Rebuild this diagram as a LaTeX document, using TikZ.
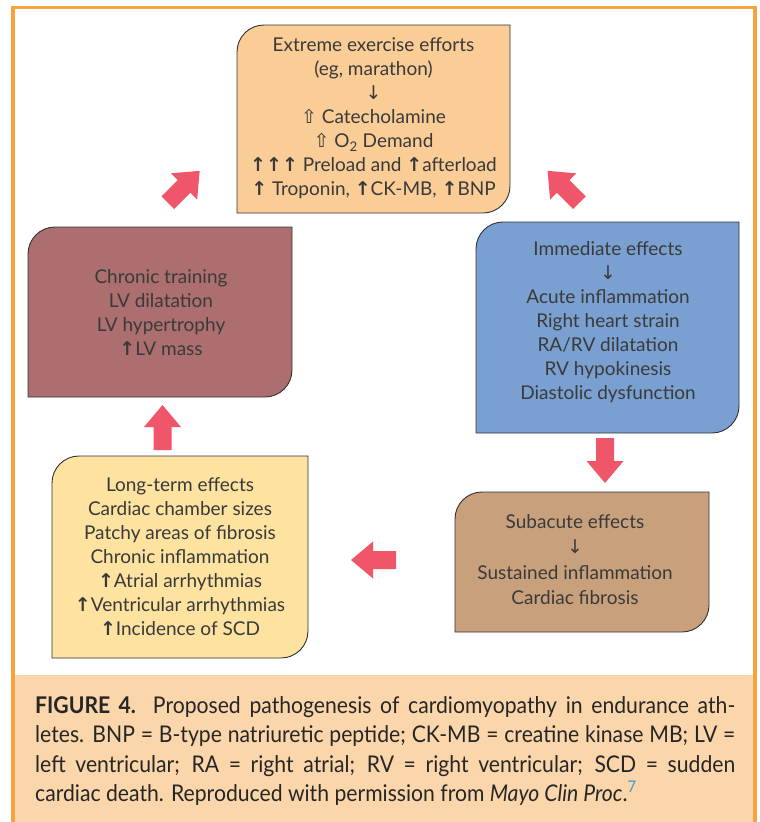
\documentclass[tikz,border=0pt]{standalone}
\usepackage{fontspec}
\setmainfont{Lato}
\newfontfamily\symf{DejaVu Sans}
\newfontfamily\capfont[FakeStretch=0.92]{Lato}
\definecolor{cTop}{HTML}{FACC96}
\definecolor{cBlue}{HTML}{7AA0D2}
\definecolor{cMaroon}{HTML}{AC6E6E}
\definecolor{cYellow}{HTML}{FDE2A0}
\definecolor{cBrown}{HTML}{C8A07C}
\definecolor{cCap}{HTML}{FBD6AA}
\definecolor{cFrame}{HTML}{F7A23A}
\definecolor{cRed}{HTML}{F0566A}
\definecolor{cText}{HTML}{3A3A3A}
\definecolor{cRef}{HTML}{3E9AD6}
\newcommand\upar{{\symf\bfseries\char"2191}}
\newcommand\dnar{{\symf\char"2193}}
\newcommand\hup{{\symf\char"21E7}}
\newcommand\blockarrow[3]{\fill[cRed, shift={(#1,#2)}, rotate=#3] (-22.5,-9) -- (0.5,-9) -- (0.5,-18.5) -- (22.5,0) -- (0.5,18.5) -- (0.5,9) -- (-22.5,9) -- cycle;}
\newcommand\cornerbox[3]{%
  \draw[boxline, fill=#2] (#1.south west) -- ([yshift=-#3pt]#1.north west) arc(180:270:#3) -- (#1.north east) -- ([yshift=#3pt]#1.south east) arc(0:90:#3) -- cycle;}
\tikzset{
  boxshape/.style={inner sep=0pt, outer sep=0pt, draw=none},
  boxline/.style={draw=black!80, line width=0.9pt},
  txt/.style={align=center, text=cText, inner sep=0pt, font=\fontsize{19}{24}\selectfont},
  capline/.style={anchor=base west, inner sep=0pt, text=black!85, font=\capfont\fontsize{23}{29.5}\selectfont}
}
\begin{document}
\begin{tikzpicture}[x=1pt,y=-1pt]
\useasboundingbox (0,0) rectangle (760,822);
\clip (0,0) rectangle (760,822);
\fill[white] (0,0) rectangle (760,822);
% caption background
\fill[cCap] (13,675) rectangle (755,830);
% frame
\draw[cFrame, line width=3.3pt] (13,830) -- (13,7.5) -- (755,7.5) -- (755,830);

% boxes
\node[boxshape, minimum width=273pt, minimum height=188pt] (top) at (373.5,119) {};
\cornerbox{top}{cTop}{27}
\node[boxshape, minimum width=263pt, minimum height=211pt] (imm) at (607.5,327.5) {};
\cornerbox{imm}{cBlue}{27}
\node[boxshape, minimum width=264pt, minimum height=170pt] (chr) at (160,312) {};
\cornerbox{chr}{cMaroon}{27}
\node[boxshape, minimum width=256pt, minimum height=202pt] (lng) at (180,557) {};
\cornerbox{lng}{cYellow}{27}
\node[boxshape, minimum width=254pt, minimum height=140pt] (sub) at (582,562) {};
\cornerbox{sub}{cBrown}{27}

% texts
\node[txt] (toptxt) at (373.5,118) {Extreme exercise efforts\\(eg, marathon)\\\dnar\\\hup\ Catecholamine\\\hup\ O\textsubscript{2} Demand\\\upar\upar\upar\ Preload and \upar afterload\\\upar\ Troponin, \upar CK-MB, \upar BNP};
\node[txt] (immtxt) at (608,322.5) {Immediate effects\\\dnar\\Acute inflammation\\Right heart strain\\RA/RV dilatation\\RV hypokinesis\\Diastolic dysfunction};
\node[txt] (chrtxt) at (161,312.5) {Chronic training\\LV dilatation\\LV hypertrophy\\\upar LV mass};
\node[txt] (lngtxt) at (180,557) {Long-term effects\\Cardiac chamber sizes\\Patchy areas of fibrosis\\Chronic inflammation\\\upar Atrial arrhythmias\\\upar Ventricular arrhythmias\\\upar Incidence of SCD};
\node[txt, font=\fontsize{19}{25.5}\selectfont] (subtxt) at (575,559.5) {Subacute effects\\\dnar\\Sustained inflammation\\Cardiac fibrosis};

% block arrows
\blockarrow{183.75}{186.75}{45}
\blockarrow{563.5}{186.75}{135}
\blockarrow{605}{460.5}{270}
\blockarrow{373.5}{560}{180}
\blockarrow{162.5}{427.5}{90}

% caption
\node[capline] (cap1) at (35,713) {\makebox[700pt][s]{\textbf{FIGURE 4.} Proposed pathogenesis of cardiomyopathy in endurance ath-}};
\node[capline] (cap2) at (35,742.5) {\makebox[700pt][s]{letes. BNP = B-type natriuretic peptide; CK-MB = creatine kinase MB; LV =}};
\node[capline] (cap3) at (35,772) {\makebox[700pt][s]{left ventricular; RA = right atrial; RV = right ventricular; SCD = sudden}};
\node[capline] (cap4) at (35,801.5) {cardiac death. Reproduced with permission from \textit{Mayo Clin Proc}.\textsuperscript{\color{cRef}7}};
\end{tikzpicture}
\end{document}
